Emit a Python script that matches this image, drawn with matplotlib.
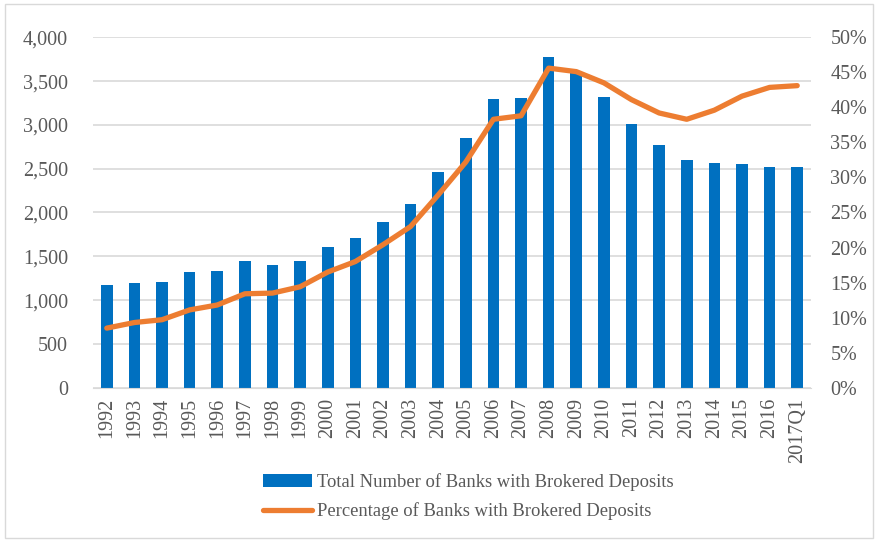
import matplotlib.pyplot as plt
from matplotlib.patches import Rectangle
from matplotlib.ticker import FuncFormatter

plt.rcParams['font.family'] = ['Liberation Serif', 'DejaVu Serif']

years = ["1992", "1993", "1994", "1995", "1996", "1997", "1998", "1999",
         "2000", "2001", "2002", "2003", "2004", "2005", "2006", "2007",
         "2008", "2009", "2010", "2011", "2012", "2013", "2014", "2015",
         "2016", "2017Q1"]
total_banks = [1170, 1200, 1205, 1315, 1335, 1445, 1395, 1450,
               1610, 1710, 1890, 2095, 2460, 2850, 3300, 3305,
               3770, 3590, 3320, 3010, 2765, 2595, 2570, 2555,
               2525, 2515]
pct_banks = [8.5, 9.3, 9.7, 11.1, 11.8, 13.4, 13.5, 14.4,
             16.5, 18.0, 20.4, 23.0, 27.5, 32.2, 38.3, 38.8,
             45.6, 45.1, 43.5, 41.1, 39.2, 38.3, 39.6, 41.6,
             42.85, 43.1]

grey = "#595959"
x = range(len(years))

fig = plt.figure(figsize=(8.78, 5.42), dpi=100)
fig.patches.append(Rectangle((0.006, 0.008), 0.988, 0.985, transform=fig.transFigure,
                             fill=False, edgecolor="#d9d9d9", linewidth=1))

ax = fig.add_axes([0.1059, 0.2847, 0.8178, 0.6465])
bars = ax.bar(x, total_banks, width=0.42, color="#0070C0", zorder=2,
              label="Total Number of Banks with Brokered Deposits")
ax.set_ylim(0, 4000)
ax.set_xlim(-0.5, len(years) - 0.5)
ax.set_yticks(range(0, 4001, 500))
ax.yaxis.set_major_formatter(FuncFormatter(lambda v, p: f"{int(v):,}"))
ax.grid(axis="y", color="#d9d9d9", linewidth=1.2, zorder=0)
ax.set_axisbelow(True)
ax.set_xticks(list(x))
ax.set_xticklabels(years, rotation=90)

ax2 = ax.twinx()
line, = ax2.plot(x, pct_banks, color="#ED7D31", linewidth=3.8,
                 solid_joinstyle="round", solid_capstyle="round",
                 label="Percentage of Banks with Brokered Deposits")
ax2.set_ylim(0, 50)
ax2.set_yticks(range(0, 51, 5))
ax2.yaxis.set_major_formatter(FuncFormatter(lambda v, p: f"{int(v)}%"))

for a in (ax, ax2):
    for s in a.spines.values():
        s.set_visible(False)
    a.tick_params(length=0, labelsize=14.5, labelcolor=grey)
ax.spines["bottom"].set_visible(True)
ax.spines["bottom"].set_color("#d9d9d9")
ax.tick_params(axis="y", pad=18)
ax.tick_params(axis="x", pad=7)
ax2.tick_params(axis="y", pad=14)

fig.legend(handles=[bars, line], loc="center left", bbox_to_anchor=(0.281, 0.083),
           frameon=False, fontsize=13.4, labelcolor=grey, handlelength=2.6,
           handletextpad=0.3, labelspacing=0.6)

fig.savefig("out.png", dpi=100)
